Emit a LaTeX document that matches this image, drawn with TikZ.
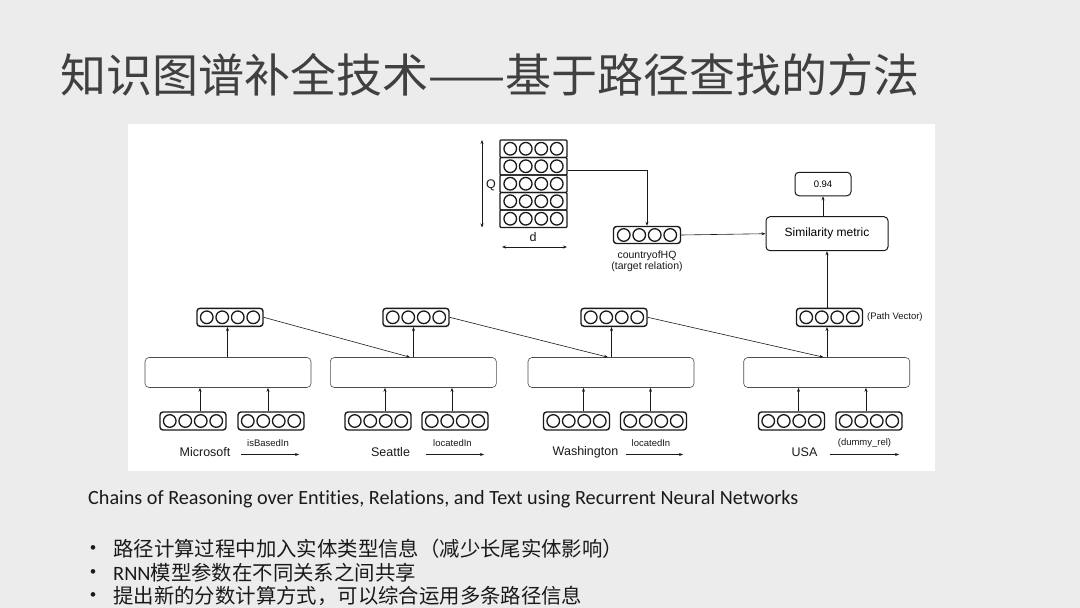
\documentclass[tikz,border=0pt]{standalone}
\usepackage{fontspec}
\setmainfont{Liberation Sans}
\newfontfamily\cjk{Noto Sans CJK SC}
\newfontfamily\carl[Ligatures=NoCommon]{Carlito}
\usetikzlibrary{arrows.meta}
\definecolor{slidebg}{HTML}{ECECEC}
\definecolor{titlegray}{HTML}{404040}
\definecolor{inkgray}{HTML}{1A1A1A}
\tikzset{
  vecb/.style={draw=inkgray, line width=1.4pt, rounded corners=3pt, inner sep=0pt,
    minimum width=66pt, minimum height=18pt,
    path picture={\foreach \k in {-1.5,-0.5,0.5,1.5}
      \draw[line width=1.3pt, draw=inkgray] ([xshift=\k*15.5pt]path picture bounding box.center) circle[radius=6.3pt];}},
  matrow/.style={vecb, rounded corners=1pt, minimum width=67pt, minimum height=17.5pt},
  cell/.style={draw=black!70, line width=0.6pt, rounded corners=4pt, minimum width=166pt, minimum height=30pt, inner sep=0pt},
  rbox/.style={draw=inkgray, line width=1pt, rounded corners=4pt, inner sep=0pt},
  arr/.style={draw=inkgray, line width=0.6pt, -{Stealth[length=4pt,width=3pt]}},
  darr/.style={draw=inkgray, line width=0.6pt, {Stealth[length=4pt,width=3pt]}-{Stealth[length=4pt,width=3pt]}},
  lbl/.style={font=\fontsize{12.5}{14}\selectfont, text=inkgray, inner sep=0pt},
  small/.style={font=\fontsize{9.5}{11}\selectfont, text=inkgray, inner sep=0pt},
  cjkline/.style={anchor=west, inner sep=0pt, text=inkgray, font=\cjk\fontsize{20.4}{24}\selectfont},
  bulletmark/.style={anchor=center, inner sep=0pt, text=inkgray, font=\carl\fontsize{13}{15}\selectfont},
}
\begin{document}
\begin{tikzpicture}[x=1pt,y=-1pt]
\useasboundingbox (0,0) rectangle (1080,608);
\fill[slidebg] (0,0) rectangle (1080,608);
\fill[white] (128,124) rectangle (935,471);
% title
\node[anchor=west, inner sep=0pt, text=titlegray, font=\cjk\fontsize{46}{54}\selectfont] (title) at (60,75) {知识图谱补全技术——基于路径查找的方法};
% matrix Q x d
\foreach \r/\yy in {1/148.75,2/166.25,3/183.75,4/201.25,5/218.75}
  \node[matrow] (m\r) at (533.5,\yy) {};
\coordinate (qtop) at (482,140);
\coordinate (qbot) at (482,227.5);
\draw[darr] (qtop) -- (qbot);
\node[lbl] (qlab) at (491,185) {Q};
\node[lbl] (dlab) at (533,237) {d};
\coordinate (dl) at (502,247);
\coordinate (dr) at (567,247);
\draw[darr] (dl) -- (dr);
% target relation vector
\node[vecb, minimum width=67pt, minimum height=17pt] (hq) at (647,235) {};
\node[small, font=\fontsize{10.5}{12}\selectfont] (hqlab1) at (647,255.5) {countryofHQ};
\node[small, font=\fontsize{10.5}{12}\selectfont] (hqlab2) at (647,267) {(target relation)};
\draw[arr] ([yshift=-4pt]m2.east) -| (hq.north);
% similarity & score
\node[rbox, minimum width=122pt, minimum height=34pt, font=\fontsize{12}{14}\selectfont] (sim) at (827,233.7) {Similarity metric};
\node[rbox, minimum width=56pt, minimum height=23.5pt, font=\fontsize{9.5}{11}\selectfont] (score) at (823,184) {0.94};
\draw[arr] (hq.east) -- (sim.west);
\draw[arr] (sim.north -| score.south) -- (score.south);
% RNN cells
\node[cell] (b1) at (228,372.5) {};
\node[cell] (b2) at (413.3,372.5) {};
\node[cell] (b3) at (611,372.5) {};
\node[cell] (b4) at (826.7,372.5) {};
% output vectors
\node[vecb] (o1) at (230,317.3) {};
\node[vecb] (o2) at (416,317.3) {};
\node[vecb] (o3) at (614,317.3) {};
\node[vecb] (o4) at (829.5,317.3) {};
\node[small, anchor=west] (pvlab) at (867,317) {(Path Vector)};
\draw[arr] (o4.north -| sim.south) -- (sim.south);
\foreach \i in {1,2,3,4}
  \draw[arr] ([xshift=-2.5pt]o\i.south |- b\i.north) -- ([xshift=-2.5pt]o\i.south);
\draw[arr] (o1.east) -- ([xshift=-6pt]o2.south |- b2.north);
\draw[arr] (o2.east) -- ([xshift=-6pt]o3.south |- b3.north);
\draw[arr] (o3.east) -- ([xshift=-6pt]o4.south |- b4.north);
% input vectors
\node[vecb] (i1a) at (193,421) {};
\node[vecb] (i1b) at (271,421) {};
\node[vecb] (i2a) at (378,421) {};
\node[vecb] (i2b) at (455,421) {};
\node[vecb] (i3a) at (576.5,421) {};
\node[vecb] (i3b) at (653.5,421) {};
\node[vecb] (i4a) at (791.5,421) {};
\node[vecb] (i4b) at (869,421) {};
\foreach \i in {1,2,3,4}{
  \draw[arr] ([xshift=7pt]i\i a.north) -- ([xshift=7pt]i\i a.north |- b\i.south);
  \draw[arr] ([xshift=-3pt]i\i b.north) -- ([xshift=-3pt]i\i b.north |- b\i.south);
}
% entity and relation labels
\node[lbl] (e1) at (205,452.5) {Microsoft};
\node[lbl] (e2) at (390.5,452.5) {Seattle};
\node[lbl] (e3) at (585.5,452.5) {Washington};
\node[lbl] (e4) at (804.5,452.5) {USA};
\node[small] (r1) at (268,443) {isBasedIn};
\node[small] (r2) at (452.5,443) {locatedIn};
\node[small] (r3) at (651,443) {locatedIn};
\node[small] (r4) at (864.5,443) {(dummy\_rel)};
\coordinate (r1l) at (241,454.5); \coordinate (r1r) at (299,454.5);
\coordinate (r2l) at (426,454.5); \coordinate (r2r) at (484,454.5);
\coordinate (r3l) at (626,454.5); \coordinate (r3r) at (683,454.5);
\coordinate (r4l) at (830,454.5); \coordinate (r4r) at (899,454.5);
\foreach \i in {1,2,3,4} \draw[arr] (r\i l) -- (r\i r);
% text below
\node[anchor=west, inner sep=0pt, text=inkgray, font=\carl\fontsize{20.2}{24}\selectfont] (paper) at (88,499) {Chains of Reasoning over Entities, Relations, and Text using Recurrent Neural Networks};
\foreach \n/\yy in {1/549,2/572.5,3/596}
  \node[bulletmark] (bul\n) at (93,\yy) {•};
\node[cjkline] (t1) at (113,549) {路径计算过程中加入实体类型信息（减少长尾实体影响）};
\node[cjkline] (t2) at (113,572.5) {{\carl RNN}模型参数在不同关系之间共享};
\node[cjkline] (t3) at (113,596) {提出新的分数计算方式，可以综合运用多条路径信息};
\end{tikzpicture}
\end{document}
